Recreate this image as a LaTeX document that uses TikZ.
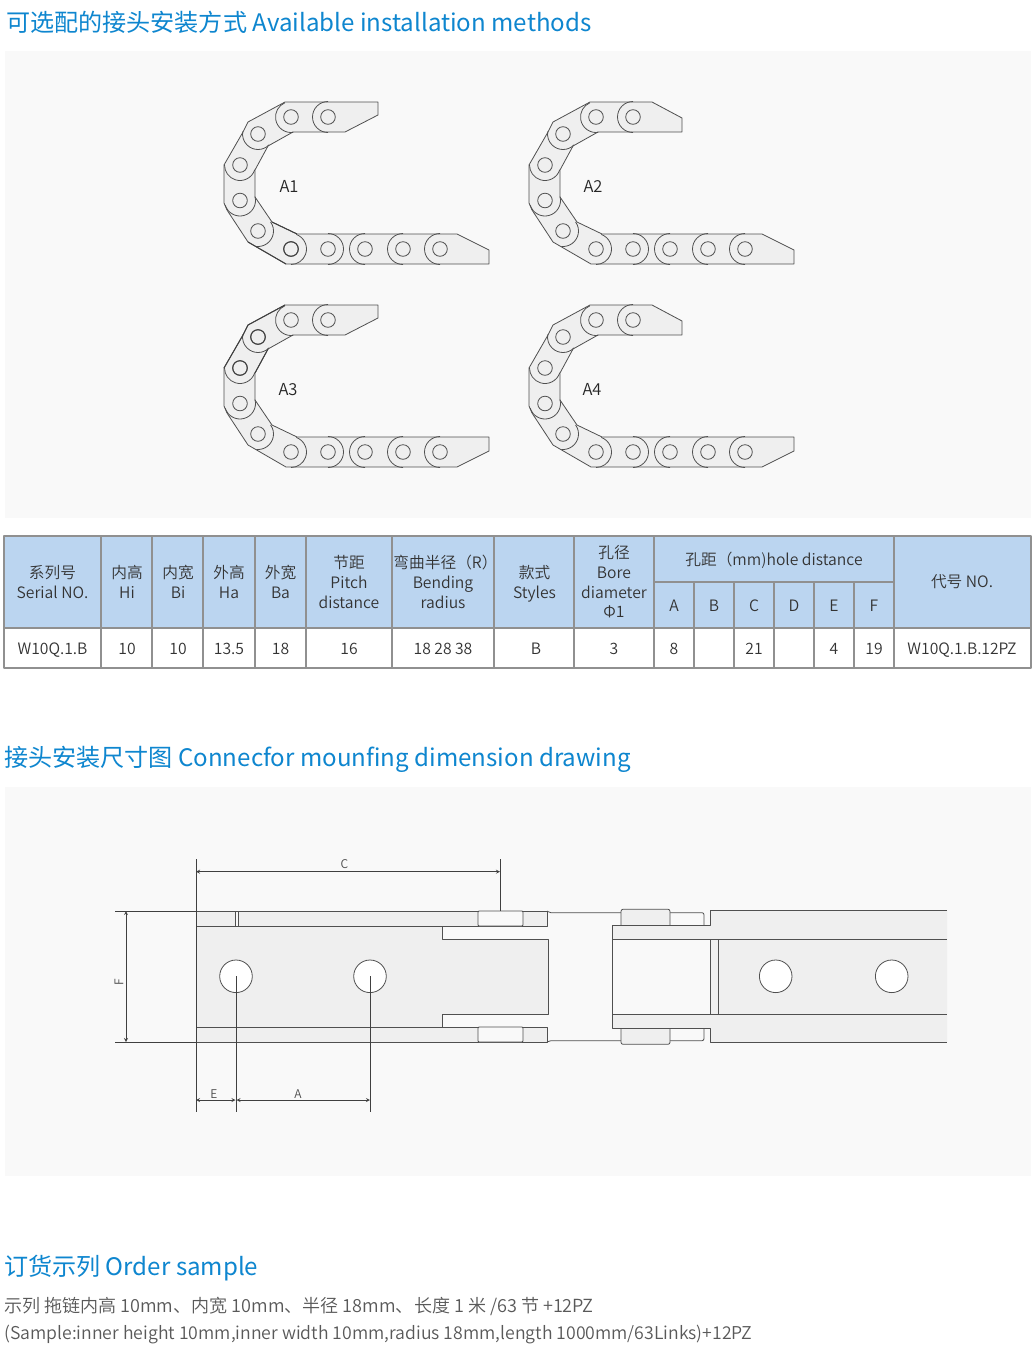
\documentclass[tikz,border=0pt]{standalone}
\usepackage{fontspec}
\setmainfont{Noto Sans CJK SC}[UprightFont={* DemiLight},BoldFont={*}]
\definecolor{panelgray}{HTML}{F9F9F9}
\definecolor{partgray}{HTML}{EFEFEF}
\definecolor{linegray}{HTML}{505050}
\definecolor{titleblue}{HTML}{0E86CF}
\definecolor{headblue}{HTML}{BBD5F0}
\definecolor{gridgray}{HTML}{909090}
\definecolor{textgray}{HTML}{333333}
\tikzset{
	part/.style={draw=linegray,fill=partgray,line width=0.8pt},
	open/.style={draw=linegray,fill=panelgray,line width=0.8pt},
	hole/.style={draw=linegray,fill=white,line width=0.8pt},
	thin line/.style={draw=linegray,line width=0.8pt},
	heavy/.style={draw=black!75,line width=1pt},
	dim/.style={draw=black!75,line width=0.8pt},
	dimarrow/.style={dim,<->},
	dimlabel/.style={font=\fontsize{12}{12}\selectfont,text=black!70,inner sep=0pt},
	title/.style={anchor=west,inner sep=0pt,text=titleblue,font=\bfseries\fontsize{24.1}{28}\selectfont},
	note/.style={anchor=west,inner sep=0pt,text=black!65,font=\fontsize{18.05}{20}\selectfont},
	cell/.style={align=center,inner sep=0pt,text=textgray,font=\fontsize{15.7}{19.7}\selectfont},
	chainlabel/.style={inner sep=0pt,text=black!85,font=\fontsize{16.5}{18}\selectfont}
}
\newcommand{\drawchain}[2]{
	\draw[part,line join=round] (285,102)--#1--(293,132)--(268,146)--(255,170)--(255,197)--(272,222)--(297,234)
		--#2--(286,264)--(248,242)--(227,210)--(224,203)--(224,165)--(243,132)--(248,122)--cycle;
	\foreach \cx/\cy/\sa/\ea in {440/249/90/270,403/249/90/270,365/249/90/270,328/249/-90/90,291/249/-70/90,
		258/231/-36/96,240/200.5/-15/163,240/165/18/180,258/134/44/190,291/117/81/247,328/117/90/270}
		\draw[thin line] (\cx,\cy)++(\sa:15.5) arc[start angle=\sa,end angle=\ea,radius=15.5];
	\foreach \cx/\cy in {440/249,403/249,365/249,328/249,291/249,258/231,240/200.5,240/165,258/134,291/117,328/117}
		\draw[thin line] (\cx,\cy) circle (7.3);
}
\begin{document}
\begin{tikzpicture}[>=stealth,line join=round,x=1pt,y=-1pt]
	\fill[white] (0,0) rectangle (1036,1358);
	\useasboundingbox (0,0) rectangle (1036,1358);
	\fill[panelgray] (5,51) rectangle (1031,518);
	\fill[panelgray] (5,787) rectangle (1031,1176);
	\node[title] (title1) at (6,22) {可选配的接头安装方式 Available installation methods};
	\node[title] (title2) at (4,759.5) {接头安装尺寸图 Connecfor mounfing dimension drawing};
	\node[title] (title3) at (4,1268.5) {订货示列 Order sample};
	\node[note] (note1) at (4,1306) {示列 拖链内高 10mm、内宽 10mm、半径 18mm、长度 1 米 /63 节 +12PZ};
	\node[note,font=\fontsize{17.65}{20}\selectfont] (note2) at (4,1334) {(Sample:inner height 10mm,inner width 10mm,radius 18mm,length 1000mm/63Links)+12PZ};

	\begin{scope}
		\drawchain{(378,102)--(378,115)--(345,132)}{(457,234)--(489,250)--(489,264)}
		\draw[heavy] (272,222)--(297,234) (248,242)--(286,264);
		\draw[heavy] (291,249) circle (7.3);
		\node[chainlabel] (labelA1) at (289,186) {A1};
	\end{scope}
	\begin{scope}[shift={(305,0)}]
		\drawchain{(347,102)--(377,118)--(377,132)}{(457,234)--(489,250)--(489,264)}
		\node[chainlabel] (labelA2) at (288,186) {A2};
	\end{scope}
	\begin{scope}[shift={(0,203)}]
		\drawchain{(378,102)--(378,115)--(345,132)}{(489,234)--(489,248)--(457,264)}
		\draw[heavy] (243,132)--(224,165) (268,146)--(255,170) (243,132)--(248,122)--(285,102);
		\draw[heavy] (258,134) circle (7.3) (240,165) circle (7.3);
		\node[chainlabel] (labelA3) at (288,186.5) {A3};
	\end{scope}
	\begin{scope}[shift={(305,203)}]
		\drawchain{(347,102)--(377,118)--(377,132)}{(489,234)--(489,248)--(457,264)}
		\node[chainlabel] (labelA4) at (287,186) {A4};
	\end{scope}

	\fill[headblue] (4,536) rectangle (1031,628);
	\draw[gridgray,line width=1.1pt] (4,536) rectangle (1031,668) (4,628)--(1031,628) (654,582)--(894,582);
	\foreach \gx in {101,152,203,255,306,392,494,574,654,894}
		\draw[gridgray,line width=1.1pt] (\gx,536)--(\gx,668);
	\foreach \gx in {694,734,774,814,854}
		\draw[gridgray,line width=1.1pt] (\gx,582)--(\gx,668);
	\foreach \name/\cx/\txt in {serial/52.5/{系列号\\Serial NO.},hi/127/{内高\\Hi},bi/178/{内宽\\Bi},ha/229/{外高\\Ha},
		ba/280.5/{外宽\\Ba},pitch/349/{节距\\Pitch\\distance},radius/443/{\hspace*{5pt}弯曲半径（R）\\Bending\\radius},
		bore/614/{孔径\\Bore\\diameter\\Φ1},code/962/{代号 NO.}}
		\node[cell] (head\name) at (\cx,582) {\txt};
	\node[cell] (headstyles) at (534.5,584) {款式\\Styles};
	\node[cell] (headhole) at (774,560) {孔距（mm)hole distance};
	\foreach \name/\cx in {A/674,B/714,C/754,D/794,E/834,F/874}
		\node[cell,anchor=base] (head\name) at (\cx,611) {\name};
	\foreach \name/\cx/\txt in {serial/52.5/W10Q.1.B,hi/127/10,bi/178/10,ha/229/13.5,ba/280.5/18,pitch/349/16,
		radius/443/18 28 38,styles/536/B,bore/614/3,A/674/8,C/754/21,E/834/4,F/874/19,code/962/W10Q.1.B.12PZ}
		\node[cell,anchor=base] (data\name) at (\cx,654) {\txt};

	\fill[partgray] (196,926) rectangle (442,1027) (442,939) rectangle (548,1014);
	\draw[thin line] (196,926)--(442,926)--(442,939)--(548,939)--(548,1014)--(442,1014)--(442,1027)--(196,1027);
	\draw[part] (196,911) rectangle (547,926);
	\draw[part] (196,1027) rectangle (547,1042);
	\draw[open,rounded corners=1pt] (478,911) rectangle (523,926);
	\draw[open,rounded corners=1pt] (478,1027) rectangle (523,1042);
	\fill[panelgray] (235.6,911.5) rectangle (237.8,925.5);
	\draw[thin line,line width=0.5pt] (235.6,911)--(235.6,926) (237.8,911)--(237.8,926);
	\draw[hole] (236,976.3) circle (16.3);
	\draw[hole] (370,976.3) circle (16.3);

	\draw[thin line,rounded corners=2pt] (547,911)--(549,912.7)--(621,912.7);
	\draw[thin line,rounded corners=2pt] (547,1042)--(549,1040.7)--(621,1040.7);
	\draw[thin line,rounded corners=2pt] (670,912.7)--(704,912.7)--(704,925);
	\draw[thin line,rounded corners=2pt] (670,1040.7)--(704,1040.7)--(704,1028);
	\draw[part,rounded corners=2pt] (621,925)--(621,909.3)--(670,909.3)--(670,925);
	\draw[part,rounded corners=2pt] (621,1028)--(621,1044.3)--(670,1044.3)--(670,1028);
	\fill[partgray] (710,911) rectangle (947,1042.3) (612.3,925) rectangle (710,1028);
	\fill[panelgray] (612.3,939.3) rectangle (710,1014);
	\draw[thin line] (947,910.7)--(710,910.7)--(710,925)--(612.3,925)--(612.3,1028)--(710,1028)--(710,1042.3)--(947,1042.3);
	\draw[thin line] (612.3,939.3)--(947,939.3) (612.3,1014)--(947,1014);
	\draw[thin line] (710,939.3)--(710,1014);
	\draw[thin line,line width=1.1pt] (718.3,939.3)--(718.3,1014);
	\draw[hole] (775.7,976.3) circle (16.3);
	\draw[hole] (891.7,976.3) circle (16.3);

	\draw[dim] (196,859)--(196,1112);
	\draw[dim] (500,859)--(500,911);
	\draw[dim] (236,976.3)--(236,1112);
	\draw[dim] (370,976.3)--(370,1112);
	\draw[dim] (115,911)--(196,911);
	\draw[dim] (115,1042)--(196,1042);
	\draw[dimarrow] (196,871.7)--(500,871.7);
	\draw[dimarrow] (126,911)--(126,1042);
	\draw[dimarrow] (196,1100)--(235.5,1100);
	\draw[dimarrow] (236.5,1100)--(370,1100);
	\node[dimlabel] (labelC) at (344.5,864.5) {C};
	\node[dimlabel,rotate=90] (labelF) at (119,982) {F};
	\node[dimlabel] (labelE) at (214,1094) {E};
	\node[dimlabel] (labelA) at (298,1094) {A};
\end{tikzpicture}
\end{document}
